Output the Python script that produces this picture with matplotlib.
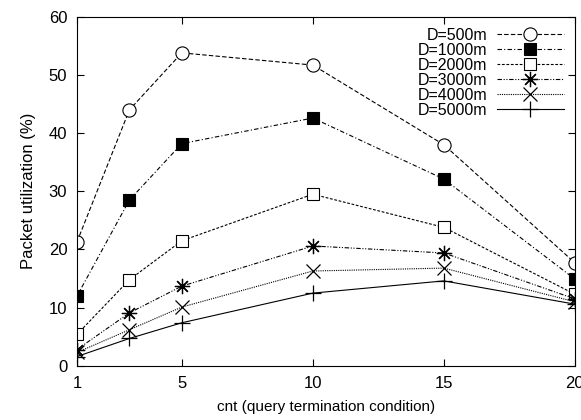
import matplotlib
matplotlib.use("Agg")
from matplotlib import pyplot as plt

plt.rcParams['font.family'] = ['Liberation Sans', 'DejaVu Sans']

cnt = [1, 3, 5, 10, 15, 20]
d500 = [21.3, 44.0, 53.8, 51.7, 38.0, 17.7]
d1000 = [12.0, 28.5, 38.2, 42.6, 32.1, 14.9]
d2000 = [5.4, 14.8, 21.5, 29.5, 23.8, 12.3]
d3000 = [2.8, 9.1, 13.7, 20.6, 19.4, 11.5]
d4000 = [2.3, 6.2, 10.1, 16.3, 16.8, 11.0]
d5000 = [1.6, 4.7, 7.4, 12.5, 14.6, 10.6]

labels = ["D=500m", "D=1000m", "D=2000m", "D=3000m", "D=4000m", "D=5000m"]
xticks = [1, 5, 10, 15, 20]
yticks = [0, 10, 20, 30, 40, 50, 60]

fig = plt.figure(figsize=(5.81, 4.2), dpi=100)
ax = fig.add_axes([0.1325, 0.129, 0.857, 0.831])

lw = 0.8
ax.plot(cnt, d500, color='black', lw=lw, linestyle=(0, (4, 2)), marker='o',
        markersize=9.5, markerfacecolor='white', markeredgewidth=0.8, label=labels[0])
ax.plot(cnt, d1000, color='black', lw=lw, linestyle=(0, (4, 2, 1, 2)), marker='s',
        markersize=9, markerfacecolor='black', markeredgewidth=0.8, label=labels[1])
ax.plot(cnt, d2000, color='black', lw=lw, linestyle=(0, (2.5, 1.5)), marker='s',
        markersize=9, markerfacecolor='white', markeredgewidth=0.8, label=labels[2])
ax.plot(cnt, d3000, color='black', lw=lw, linestyle=(0, (4, 1.5, 1, 1.5, 1, 1.5)),
        marker=(8, 2, 0), markersize=11, markeredgewidth=0.9, label=labels[3])
ax.plot(cnt, d4000, color='black', lw=lw, linestyle=(0, (1, 1)), marker='x',
        markersize=10, markeredgewidth=0.9, label=labels[4])
ax.plot(cnt, d5000, color='black', lw=lw, linestyle='-', marker='+',
        markersize=11, markeredgewidth=0.9, label=labels[5])

ax.set_xlim(1, 20)
ax.set_ylim(0, 60)
ax.set_xticks(xticks)
ax.set_yticks(yticks)
ax.tick_params(direction='in', top=True, right=True, labelsize=12, length=5, pad=7)
for s in ax.spines.values():
    s.set_linewidth(0.8)

ax.set_xlabel("cnt (query termination condition)", fontsize=11, labelpad=7)
ax.set_ylabel("Packet utilization (%)", fontsize=12, labelpad=9)

ax.legend(loc='upper right', frameon=False, markerfirst=False, fontsize=11.5,
          handlelength=4.2, labelspacing=0.0, borderaxespad=0.3, handletextpad=0.6)

fig.savefig("out.png", dpi=100)
